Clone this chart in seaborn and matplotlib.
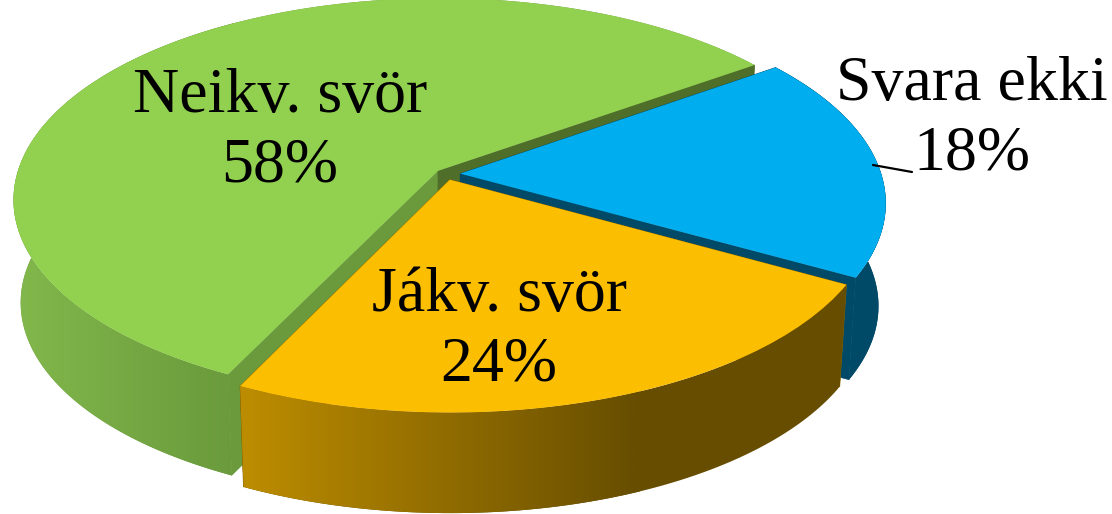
import numpy as np
import matplotlib
matplotlib.use('Agg')
import matplotlib.pyplot as plt
import seaborn as sns
from matplotlib.patches import Polygon
from matplotlib.transforms import Transform

labels = ['Neikv. svör', 'Jákv. svör', 'Svara ekki']
shares = [58, 24, 18]
top_colors = ['#92D050', '#FCBE00', '#00AEEF']
explode = [0.025, 0.03, 0.034]

# side shading, left to right
rim_stops = [['#82B84C', '#6A9A3C'], ['#C08F00', '#664D00'], ['#004A68', '#004A68']]
rim_span = [(13, 235), (228, 640), (700, 890)]
cut_colors = [['#6A9A3C', '#4F6E2A'], ['#8A6700', '#8A6700'], ['#004A68', '#004A68']]
# back to front
draw_order = [0, 2, 1]

sns.set_theme(style='white')
plt.rcParams['font.family'] = ['Liberation Serif', 'DejaVu Serif']


# pie lies on the table: tilt it with a perspective, far side gets smaller
class TiltedDisc(Transform):
    input_dims = 2
    output_dims = 2
    is_separable = False

    def __init__(self, ox, oy, sx, sy, k=0.142):
        super().__init__()
        self.ox, self.oy, self.sx, self.sy, self.k = ox, oy, sx, sy, k

    def transform_non_affine(self, values):
        v = np.asarray(values, dtype=float)
        w = 1 + self.k * v[:, 1]
        return np.column_stack([self.ox + self.sx * v[:, 0] / w, self.oy - self.sy * v[:, 1] / w])


top = TiltedDisc(446, 174, 421, 198)
bottom = TiltedDisc(446, 277, 414, 196)

fig, ax = plt.subplots(figsize=(11.12, 5.14), dpi=100)
fig.subplots_adjust(0, 0, 1, 1)

wedges, _ = ax.pie(shares, colors=sns.color_palette(top_colors), explode=explode, startangle=35.5, radius=1)
ax.set_aspect('auto')

z = 1
for i in draw_order:
    w = wedges[i]
    cx, cy = w.center
    t1, t2 = np.radians(w.theta1), np.radians(w.theta2)

    def cut_face(th, col, z):
        edge = np.array([[cx, cy], [cx + w.r * np.cos(th), cy + w.r * np.sin(th)]])
        face = np.vstack([top.transform(edge), bottom.transform(edge)[::-1]])
        ax.add_patch(Polygon(face, closed=True, fc=col, ec=col, lw=0.5, zorder=z))

    # cut faces on the viewer's side go under the rim, a far one over it
    far = np.sin(t1) > 0
    cut_face(t2, cut_colors[i][0], z)
    z += 1
    if not far:
        cut_face(t1, cut_colors[i][1], z)
        z += 1

    # outer rim with a horizontal gradient
    th = np.linspace(t1, t2, 200)
    arc = np.column_stack([cx + w.r * np.cos(th), cy + w.r * np.sin(th)])
    rim = np.vstack([top.transform(arc), bottom.transform(arc)[::-1]])
    ax.add_patch(Polygon(rim, closed=True, fc=rim_stops[i][1], ec='none', zorder=z))
    z += 1
    cmap = sns.blend_palette(rim_stops[i], n_colors=256, as_cmap=True)
    im = ax.imshow(np.linspace(0, 1, 256)[None, :], cmap=cmap, aspect='auto', zorder=z,
                   extent=(rim_span[i][0], rim_span[i][1], 520, 0))
    im.set_clip_path(Polygon(rim, closed=True, transform=ax.transData))
    z += 1

    if far:
        cut_face(t1, cut_colors[i][1], z)
        z += 1

    w.set_transform(top + ax.transData)
    w.set_edgecolor('none')
    w.set_zorder(z)
    z += 1

ax.set_xlim(0, 1112)
ax.set_ylim(514, 0)
ax.set_axis_off()

text_pos = [(280, 132), (499, 331), (972, 120)]
for lab, val, (x, y) in zip(labels, shares, text_pos):
    ax.text(x, y, f'{lab}\n{val}%', ha='center', va='center', fontsize=46,
            linespacing=1.27, color='black', zorder=z)

ax.plot([873, 912], [165, 172], color='black', lw=1.6, zorder=z)

fig.savefig('out.png', dpi=100)
